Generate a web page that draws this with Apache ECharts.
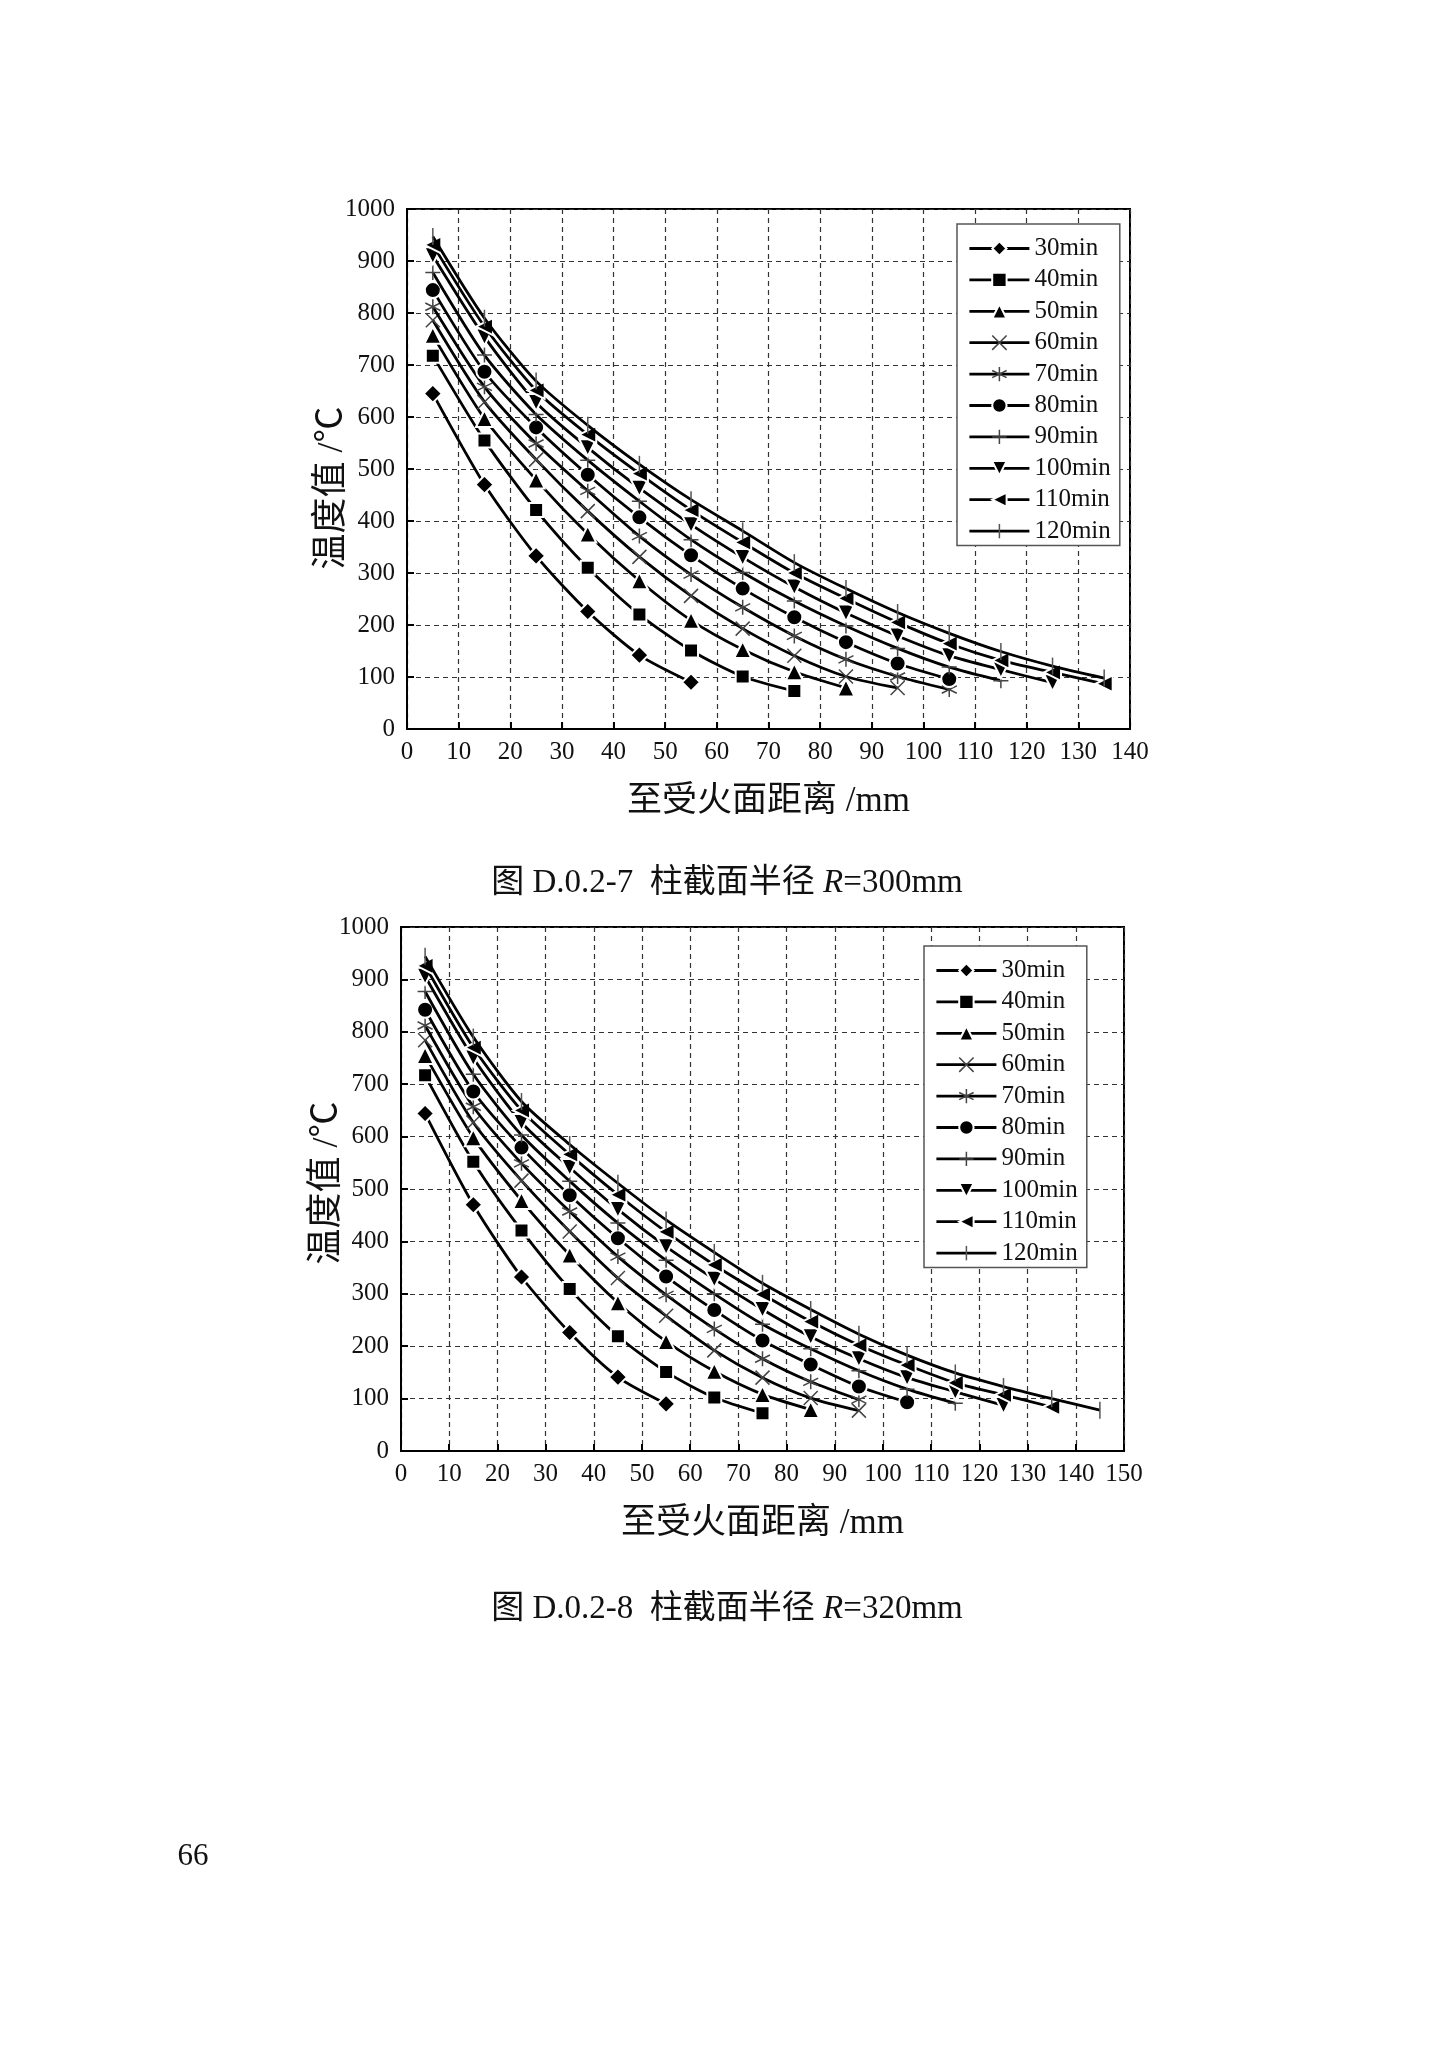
<!DOCTYPE html>
<html>
<head>
<meta charset="utf-8">
<script src="https://cdn.jsdelivr.net/npm/echarts@6/dist/echarts.min.js"></script>
<style>
html,body{margin:0;padding:0;background:#fff;}
#c{width:1447px;height:2048px;}
</style>
</head>
<body>
<div id="c"></div>
<script>
// ---------- data ----------
const distances = [5, 15, 25, 35, 45, 55, 65, 75, 85, 95, 105, 115, 125, 135, 145];
const seriesNames = ['30min', '40min', '50min', '60min', '70min', '80min', '90min', '100min', '110min', '120min'];

// Figure D.0.2-7, R = 300mm
const r300_30min  = [645, 470, 333, 226, 142, 90];
const r300_40min  = [718, 555, 421, 310, 220, 151, 101, 73];
const r300_50min  = [757, 597, 479, 375, 285, 209, 153, 110, 79];
const r300_60min  = [786, 629, 518, 419, 331, 256, 193, 141, 101, 79];
const r300_70min  = [812, 658, 549, 458, 371, 297, 234, 179, 134, 101, 76];
const r300_80min  = [844, 687, 580, 489, 407, 334, 270, 215, 167, 126, 96];
const r300_90min  = [878, 719, 605, 517, 438, 364, 301, 246, 198, 155, 119, 93];
const r300_100min = [910, 754, 628, 541, 463, 393, 330, 273, 223, 179, 141, 114, 89];
const r300_110min = [931, 774, 651, 566, 491, 421, 359, 300, 251, 205, 164, 132, 109, 87];
const r300_120min = [947, 790, 669, 584, 509, 441, 381, 320, 270, 224, 184, 149, 121, 98];

// Figure D.0.2-8, R = 320mm
const r320_30min  = [644, 470, 332, 226, 141, 90];
const r320_40min  = [717, 552, 421, 309, 219, 151, 102, 72];
const r320_50min  = [755, 598, 478, 374, 283, 209, 152, 108, 79];
const r320_60min  = [784, 627, 516, 419, 330, 258, 192, 140, 101, 77];
const r320_70min  = [812, 657, 549, 457, 371, 298, 233, 176, 132, 98];
const r320_80min  = [842, 686, 579, 488, 406, 333, 269, 211, 165, 123, 93];
const r320_90min  = [877, 719, 603, 515, 435, 364, 300, 242, 195, 153, 118, 91];
const r320_100min = [906, 750, 627, 541, 461, 390, 328, 270, 218, 176, 140, 113, 87];
const r320_110min = [926, 770, 650, 566, 489, 418, 355, 299, 247, 202, 164, 130, 107, 84];
const r320_120min = [944, 790, 667, 585, 511, 441, 379, 320, 270, 223, 183, 149, 123, 100, 78];

const r300Sets = [r300_30min, r300_40min, r300_50min, r300_60min, r300_70min, r300_80min, r300_90min, r300_100min, r300_110min, r300_120min];
const r320Sets = [r320_30min, r320_40min, r320_50min, r320_60min, r320_70min, r320_80min, r320_90min, r320_100min, r320_110min, r320_120min];

const yAxisTitle = '温度值 /℃';
const xAxisTitle = '至受火面距离 /mm';

// ---------- styles ----------
const SERIF = "'Liberation Serif','Times New Roman','Noto Sans CJK SC',serif";
const CJK = "'Liberation Serif','Noto Sans CJK SC','Noto Sans CJK JP',serif";
const filled = {color: '#000', borderColor: '#fff', borderWidth: 2};
const stroked = {color: 'none', borderColor: '#444', borderWidth: 1.5};
const markers = [
  {symbol: 'diamond', symbolSize: 18, itemStyle: filled},
  {symbol: 'rect', symbolSize: 14, itemStyle: filled},
  {symbol: 'triangle', symbolSize: 17, itemStyle: filled},
  {symbol: 'path://M0,0L10,10M10,0L0,10', symbolSize: 14, itemStyle: stroked},
  {symbol: 'path://M5,0L5,10M0.7,2.5L9.3,7.5M0.7,7.5L9.3,2.5', symbolSize: 15, itemStyle: stroked},
  {symbol: 'circle', symbolSize: 16, itemStyle: filled},
  {symbol: 'path://M5,0L5,10M0,5L10,5', symbolSize: 15, itemStyle: stroked},
  {symbol: 'triangle', symbolRotate: 180, symbolSize: 17, itemStyle: filled},
  {symbol: 'triangle', symbolRotate: 90, symbolSize: 17, itemStyle: filled},
  {symbol: 'path://M0,0M10,10M5,0L5,10', symbolSize: 17, itemStyle: {color: 'none', borderColor: '#555', borderWidth: 1.5}}
];

function buildSeries(sets, idx) {
  return sets.map((vals, i) => Object.assign({
    name: seriesNames[i],
    type: 'line',
    xAxisIndex: idx,
    yAxisIndex: idx,
    data: vals.map((v, k) => [distances[k], v]),
    smooth: 0.25,
    color: '#000',
    lineStyle: {color: '#000', width: 2.8},
    showAllSymbol: true,
    z: 2 + i
  }, markers[i]));
}

function xAxis(idx, max) {
  return {
    type: 'value', gridIndex: idx, min: 0, max: max, interval: 10,
    name: xAxisTitle, nameLocation: 'middle', nameGap: 55,
    nameTextStyle: {fontFamily: CJK, fontSize: 35, color: '#111'},
    axisLine: {show: true, onZero: false, lineStyle: {color: '#000', width: 2}},
    axisTick: {show: true, inside: true, length: 7, lineStyle: {color: '#000', width: 2}},
    axisLabel: {fontFamily: SERIF, fontSize: 25, color: '#111', margin: 11, formatter: v => String(v)},
    splitLine: {show: true, lineStyle: {color: '#333', width: 1.2, type: [5, 4]}}
  };
}
function yAxis(idx) {
  return {
    type: 'value', gridIndex: idx, min: 0, max: 1000, interval: 100,
    axisLine: {show: true, onZero: false, lineStyle: {color: '#000', width: 2}},
    axisTick: {show: true, inside: true, length: 7, lineStyle: {color: '#000', width: 2}},
    axisLabel: {fontFamily: SERIF, fontSize: 25, color: '#111', margin: 12, formatter: v => String(v)},
    splitLine: {show: true, lineStyle: {color: '#333', width: 1.2, type: [5, 4]}}
  };
}
function legend(left, top) {
  return {
    data: seriesNames, orient: 'vertical', left: left, top: top,
    itemWidth: 60, itemHeight: 18, itemGap: 6.4,
    padding: [12, 9, 2, 11],
    backgroundColor: '#fff', borderColor: '#555', borderWidth: 1.5,
    textStyle: {fontFamily: SERIF, fontSize: 25, color: '#111', lineHeight: 24},
    lineStyle: {width: 'inherit'},
    itemStyle: {borderWidth: 'inherit'},
    selectedMode: false
  };
}
function yTitle(x, y) {
  return {type: 'text', x: x, y: y, rotation: Math.PI / 2, style: {
    text: yAxisTitle, fontFamily: CJK, fontSize: 36, fill: '#111', align: 'center', verticalAlign: 'middle'
  }};
}
function caption(y, fig, r) {
  return {type: 'text', x: 727, y: y, style: {
    text: '图 ' + fig + '  柱截面半径 {i|R}=' + r, fontFamily: CJK, fontSize: 33, fill: '#111',
    align: 'center', verticalAlign: 'middle',
    rich: {i: {fontFamily: SERIF, fontSize: 33, fontStyle: 'italic', fill: '#111'}}
  }};
}

const option = {
  animation: false,
  backgroundColor: '#fff',
  grid: [
    {left: 407, top: 209, width: 723, height: 520, show: true, borderColor: '#000', borderWidth: 2, backgroundColor: 'transparent'},
    {left: 401, top: 927, width: 723, height: 524, show: true, borderColor: '#000', borderWidth: 2, backgroundColor: 'transparent'}
  ],
  xAxis: [xAxis(0, 140), xAxis(1, 150)],
  yAxis: [yAxis(0), yAxis(1)],
  legend: [legend(957, 224), legend(924, 946)],
  series: buildSeries(r300Sets, 0).concat(buildSeries(r320Sets, 1)),
  graphic: [
    yTitle(333, 488),
    yTitle(328, 1183),
    caption(883, 'D.0.2-7', '300mm'),
    caption(1609, 'D.0.2-8', '320mm'),
    {type: 'text', x: 193, y: 1857, style: {
      text: '66', fontFamily: SERIF, fontSize: 31, fill: '#111', align: 'center', verticalAlign: 'middle'
    }}
  ]
};

const chart = echarts.init(document.getElementById('c'), null, {renderer: 'canvas', width: 1447, height: 2048});
chart.setOption(option);
</script>
</body>
</html>
